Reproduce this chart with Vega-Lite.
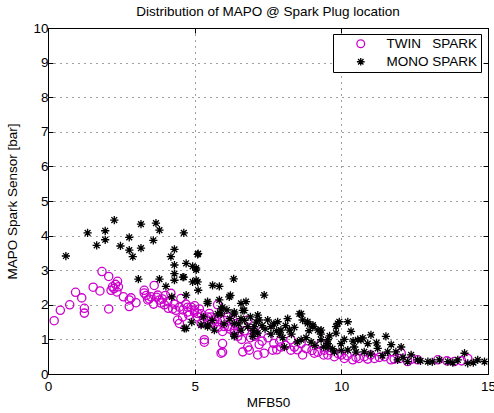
{
  "$schema": "https://vega.github.io/schema/vega-lite/v6.json",
  "width": 440,
  "height": 346,
  "autosize": "none",
  "padding": {"left": 48, "top": 28, "right": 6, "bottom": 39},
  "background": "white",
  "config": {
    "font": "Liberation Sans",
    "view": {"stroke": "black", "strokeWidth": 1},
    "axis": {"labelFont": "Liberation Sans", "titleFont": "Liberation Sans", "labelFontSize": 13.5, "titleFontSize": 13.5, "titleFontWeight": "normal", "labelColor": "black", "titleColor": "black", "domain": false, "tickColor": "black", "tickSize": -5, "gridColor": "black", "gridDash": [1, 5], "gridOpacity": 0.75, "gridWidth": 1}
  },
  "title": {"text": "Distribution of MAPO @ Spark Plug location", "fontSize": 13.5, "fontWeight": "normal", "font": "Liberation Sans", "offset": 3, "color": "black"},
  "datasets": {
    "pts": [
      {"s": "TWIN\u00a0\u00a0\u00a0SPARK", "x": 0.21, "y": 1.54}, {"s": "TWIN\u00a0\u00a0\u00a0SPARK", "x": 0.42, "y": 1.84}, {"s": "TWIN\u00a0\u00a0\u00a0SPARK", "x": 0.74, "y": 2.0}, {"s": "TWIN\u00a0\u00a0\u00a0SPARK", "x": 0.94, "y": 2.36}, {"s": "TWIN\u00a0\u00a0\u00a0SPARK", "x": 1.15, "y": 2.2}, {"s": "TWIN\u00a0\u00a0\u00a0SPARK", "x": 1.24, "y": 1.9}, {"s": "TWIN\u00a0\u00a0\u00a0SPARK", "x": 1.24, "y": 1.76}, {"s": "TWIN\u00a0\u00a0\u00a0SPARK", "x": 1.54, "y": 2.51}, {"s": "TWIN\u00a0\u00a0\u00a0SPARK", "x": 1.77, "y": 2.4}, {"s": "TWIN\u00a0\u00a0\u00a0SPARK", "x": 1.84, "y": 2.96}, {"s": "TWIN\u00a0\u00a0\u00a0SPARK", "x": 2.07, "y": 2.82}, {"s": "TWIN\u00a0\u00a0\u00a0SPARK", "x": 2.07, "y": 1.88}, {"s": "TWIN\u00a0\u00a0\u00a0SPARK", "x": 2.37, "y": 2.68}, {"s": "TWIN\u00a0\u00a0\u00a0SPARK", "x": 2.15, "y": 2.42}, {"s": "TWIN\u00a0\u00a0\u00a0SPARK", "x": 2.25, "y": 2.47}, {"s": "TWIN\u00a0\u00a0\u00a0SPARK", "x": 2.35, "y": 2.37}, {"s": "TWIN\u00a0\u00a0\u00a0SPARK", "x": 2.2, "y": 2.52}, {"s": "TWIN\u00a0\u00a0\u00a0SPARK", "x": 2.4, "y": 2.52}, {"s": "TWIN\u00a0\u00a0\u00a0SPARK", "x": 2.3, "y": 2.59}, {"s": "TWIN\u00a0\u00a0\u00a0SPARK", "x": 2.57, "y": 2.23}, {"s": "TWIN\u00a0\u00a0\u00a0SPARK", "x": 2.77, "y": 2.14}, {"s": "TWIN\u00a0\u00a0\u00a0SPARK", "x": 2.83, "y": 2.2}, {"s": "TWIN\u00a0\u00a0\u00a0SPARK", "x": 2.77, "y": 1.95}, {"s": "TWIN\u00a0\u00a0\u00a0SPARK", "x": 3.0, "y": 2.06}, {"s": "TWIN\u00a0\u00a0\u00a0SPARK", "x": 3.28, "y": 2.34}, {"s": "TWIN\u00a0\u00a0\u00a0SPARK", "x": 3.28, "y": 2.42}, {"s": "TWIN\u00a0\u00a0\u00a0SPARK", "x": 3.62, "y": 2.56}, {"s": "TWIN\u00a0\u00a0\u00a0SPARK", "x": 3.4, "y": 2.14}, {"s": "TWIN\u00a0\u00a0\u00a0SPARK", "x": 3.51, "y": 2.23}, {"s": "TWIN\u00a0\u00a0\u00a0SPARK", "x": 3.74, "y": 2.28}, {"s": "TWIN\u00a0\u00a0\u00a0SPARK", "x": 3.8, "y": 2.14}, {"s": "TWIN\u00a0\u00a0\u00a0SPARK", "x": 3.85, "y": 2.05}, {"s": "TWIN\u00a0\u00a0\u00a0SPARK", "x": 3.97, "y": 2.0}, {"s": "TWIN\u00a0\u00a0\u00a0SPARK", "x": 4.08, "y": 2.09}, {"s": "TWIN\u00a0\u00a0\u00a0SPARK", "x": 4.19, "y": 2.33}, {"s": "TWIN\u00a0\u00a0\u00a0SPARK", "x": 4.25, "y": 1.88}, {"s": "TWIN\u00a0\u00a0\u00a0SPARK", "x": 4.36, "y": 1.84}, {"s": "TWIN\u00a0\u00a0\u00a0SPARK", "x": 4.48, "y": 1.93}, {"s": "TWIN\u00a0\u00a0\u00a0SPARK", "x": 4.53, "y": 2.18}, {"s": "TWIN\u00a0\u00a0\u00a0SPARK", "x": 4.42, "y": 1.56}, {"s": "TWIN\u00a0\u00a0\u00a0SPARK", "x": 4.48, "y": 1.46}, {"s": "TWIN\u00a0\u00a0\u00a0SPARK", "x": 4.59, "y": 1.65}, {"s": "TWIN\u00a0\u00a0\u00a0SPARK", "x": 4.76, "y": 1.79}, {"s": "TWIN\u00a0\u00a0\u00a0SPARK", "x": 4.88, "y": 1.93}, {"s": "TWIN\u00a0\u00a0\u00a0SPARK", "x": 4.99, "y": 1.79}, {"s": "TWIN\u00a0\u00a0\u00a0SPARK", "x": 5.1, "y": 1.65}, {"s": "TWIN\u00a0\u00a0\u00a0SPARK", "x": 5.16, "y": 1.88}, {"s": "TWIN\u00a0\u00a0\u00a0SPARK", "x": 5.22, "y": 1.46}, {"s": "TWIN\u00a0\u00a0\u00a0SPARK", "x": 5.33, "y": 0.92}, {"s": "TWIN\u00a0\u00a0\u00a0SPARK", "x": 5.44, "y": 1.56}, {"s": "TWIN\u00a0\u00a0\u00a0SPARK", "x": 5.56, "y": 1.65}, {"s": "TWIN\u00a0\u00a0\u00a0SPARK", "x": 5.67, "y": 1.46}, {"s": "TWIN\u00a0\u00a0\u00a0SPARK", "x": 5.78, "y": 1.51}, {"s": "TWIN\u00a0\u00a0\u00a0SPARK", "x": 5.95, "y": 1.23}, {"s": "TWIN\u00a0\u00a0\u00a0SPARK", "x": 5.95, "y": 0.88}, {"s": "TWIN\u00a0\u00a0\u00a0SPARK", "x": 5.95, "y": 0.63}, {"s": "TWIN\u00a0\u00a0\u00a0SPARK", "x": 6.13, "y": 1.37}, {"s": "TWIN\u00a0\u00a0\u00a0SPARK", "x": 6.3, "y": 1.56}, {"s": "TWIN\u00a0\u00a0\u00a0SPARK", "x": 6.35, "y": 1.18}, {"s": "TWIN\u00a0\u00a0\u00a0SPARK", "x": 6.47, "y": 1.09}, {"s": "TWIN\u00a0\u00a0\u00a0SPARK", "x": 6.64, "y": 0.64}, {"s": "TWIN\u00a0\u00a0\u00a0SPARK", "x": 6.81, "y": 0.78}, {"s": "TWIN\u00a0\u00a0\u00a0SPARK", "x": 6.86, "y": 0.69}, {"s": "TWIN\u00a0\u00a0\u00a0SPARK", "x": 7.15, "y": 0.55}, {"s": "TWIN\u00a0\u00a0\u00a0SPARK", "x": 7.03, "y": 1.09}, {"s": "TWIN\u00a0\u00a0\u00a0SPARK", "x": 4.76, "y": 1.93}, {"s": "TWIN\u00a0\u00a0\u00a0SPARK", "x": 4.99, "y": 1.84}, {"s": "TWIN\u00a0\u00a0\u00a0SPARK", "x": 5.22, "y": 1.74}, {"s": "TWIN\u00a0\u00a0\u00a0SPARK", "x": 5.44, "y": 1.65}, {"s": "TWIN\u00a0\u00a0\u00a0SPARK", "x": 5.67, "y": 1.56}, {"s": "TWIN\u00a0\u00a0\u00a0SPARK", "x": 5.78, "y": 2.0}, {"s": "TWIN\u00a0\u00a0\u00a0SPARK", "x": 6.01, "y": 1.37}, {"s": "TWIN\u00a0\u00a0\u00a0SPARK", "x": 5.33, "y": 0.99}, {"s": "TWIN\u00a0\u00a0\u00a0SPARK", "x": 5.9, "y": 0.6}, {"s": "TWIN\u00a0\u00a0\u00a0SPARK", "x": 7.37, "y": 0.6}, {"s": "TWIN\u00a0\u00a0\u00a0SPARK", "x": 7.66, "y": 0.69}, {"s": "TWIN\u00a0\u00a0\u00a0SPARK", "x": 7.94, "y": 0.78}, {"s": "TWIN\u00a0\u00a0\u00a0SPARK", "x": 8.28, "y": 0.69}, {"s": "TWIN\u00a0\u00a0\u00a0SPARK", "x": 8.68, "y": 0.55}, {"s": "TWIN\u00a0\u00a0\u00a0SPARK", "x": 9.08, "y": 0.6}, {"s": "TWIN\u00a0\u00a0\u00a0SPARK", "x": 9.54, "y": 0.55}, {"s": "TWIN\u00a0\u00a0\u00a0SPARK", "x": 6.81, "y": 1.56}, {"s": "TWIN\u00a0\u00a0\u00a0SPARK", "x": 7.03, "y": 1.27}, {"s": "TWIN\u00a0\u00a0\u00a0SPARK", "x": 6.35, "y": 1.27}, {"s": "TWIN\u00a0\u00a0\u00a0SPARK", "x": 6.13, "y": 1.65}, {"s": "TWIN\u00a0\u00a0\u00a0SPARK", "x": 8.28, "y": 0.99}, {"s": "TWIN\u00a0\u00a0\u00a0SPARK", "x": 8.63, "y": 0.88}, {"s": "TWIN\u00a0\u00a0\u00a0SPARK", "x": 9.31, "y": 0.88}, {"s": "TWIN\u00a0\u00a0\u00a0SPARK", "x": 9.42, "y": 0.69}, {"s": "TWIN\u00a0\u00a0\u00a0SPARK", "x": 9.76, "y": 0.5}, {"s": "TWIN\u00a0\u00a0\u00a0SPARK", "x": 10.1, "y": 0.45}, {"s": "TWIN\u00a0\u00a0\u00a0SPARK", "x": 10.39, "y": 0.41}, {"s": "TWIN\u00a0\u00a0\u00a0SPARK", "x": 10.78, "y": 0.5}, {"s": "TWIN\u00a0\u00a0\u00a0SPARK", "x": 11.13, "y": 0.45}, {"s": "TWIN\u00a0\u00a0\u00a0SPARK", "x": 11.47, "y": 0.5}, {"s": "TWIN\u00a0\u00a0\u00a0SPARK", "x": 11.69, "y": 0.41}, {"s": "TWIN\u00a0\u00a0\u00a0SPARK", "x": 12.04, "y": 0.6}, {"s": "TWIN\u00a0\u00a0\u00a0SPARK", "x": 12.26, "y": 0.36}, {"s": "TWIN\u00a0\u00a0\u00a0SPARK", "x": 12.6, "y": 0.41}, {"s": "TWIN\u00a0\u00a0\u00a0SPARK", "x": 13.29, "y": 0.41}, {"s": "TWIN\u00a0\u00a0\u00a0SPARK", "x": 13.85, "y": 0.36}, {"s": "TWIN\u00a0\u00a0\u00a0SPARK", "x": 14.31, "y": 0.45}, {"s": "TWIN\u00a0\u00a0\u00a0SPARK", "x": 3.35, "y": 2.27}, {"s": "TWIN\u00a0\u00a0\u00a0SPARK", "x": 3.45, "y": 2.17}, {"s": "TWIN\u00a0\u00a0\u00a0SPARK", "x": 3.6, "y": 2.02}, {"s": "TWIN\u00a0\u00a0\u00a0SPARK", "x": 3.7, "y": 2.22}, {"s": "TWIN\u00a0\u00a0\u00a0SPARK", "x": 3.9, "y": 2.17}, {"s": "TWIN\u00a0\u00a0\u00a0SPARK", "x": 4.0, "y": 2.27}, {"s": "TWIN\u00a0\u00a0\u00a0SPARK", "x": 4.1, "y": 1.9}, {"s": "TWIN\u00a0\u00a0\u00a0SPARK", "x": 4.3, "y": 2.02}, {"s": "TWIN\u00a0\u00a0\u00a0SPARK", "x": 4.6, "y": 1.85}, {"s": "TWIN\u00a0\u00a0\u00a0SPARK", "x": 4.7, "y": 2.02}, {"s": "TWIN\u00a0\u00a0\u00a0SPARK", "x": 4.8, "y": 1.7}, {"s": "TWIN\u00a0\u00a0\u00a0SPARK", "x": 5.0, "y": 1.97}, {"s": "TWIN\u00a0\u00a0\u00a0SPARK", "x": 5.1, "y": 1.75}, {"s": "TWIN\u00a0\u00a0\u00a0SPARK", "x": 5.3, "y": 1.6}, {"s": "TWIN\u00a0\u00a0\u00a0SPARK", "x": 5.5, "y": 1.75}, {"s": "TWIN\u00a0\u00a0\u00a0SPARK", "x": 5.6, "y": 1.5}, {"s": "TWIN\u00a0\u00a0\u00a0SPARK", "x": 5.8, "y": 1.35}, {"s": "TWIN\u00a0\u00a0\u00a0SPARK", "x": 6.0, "y": 1.55}, {"s": "TWIN\u00a0\u00a0\u00a0SPARK", "x": 6.2, "y": 1.3}, {"s": "TWIN\u00a0\u00a0\u00a0SPARK", "x": 6.4, "y": 1.45}, {"s": "TWIN\u00a0\u00a0\u00a0SPARK", "x": 6.5, "y": 1.2}, {"s": "TWIN\u00a0\u00a0\u00a0SPARK", "x": 6.7, "y": 1.25}, {"s": "TWIN\u00a0\u00a0\u00a0SPARK", "x": 6.9, "y": 1.05}, {"s": "TWIN\u00a0\u00a0\u00a0SPARK", "x": 7.1, "y": 1.15}, {"s": "TWIN\u00a0\u00a0\u00a0SPARK", "x": 7.3, "y": 0.95}, {"s": "TWIN\u00a0\u00a0\u00a0SPARK", "x": 7.5, "y": 1.05}, {"s": "TWIN\u00a0\u00a0\u00a0SPARK", "x": 7.7, "y": 0.88}, {"s": "TWIN\u00a0\u00a0\u00a0SPARK", "x": 7.9, "y": 0.95}, {"s": "TWIN\u00a0\u00a0\u00a0SPARK", "x": 8.1, "y": 0.83}, {"s": "TWIN\u00a0\u00a0\u00a0SPARK", "x": 8.4, "y": 0.78}, {"s": "TWIN\u00a0\u00a0\u00a0SPARK", "x": 8.8, "y": 0.73}, {"s": "TWIN\u00a0\u00a0\u00a0SPARK", "x": 9.0, "y": 0.68}, {"s": "TWIN\u00a0\u00a0\u00a0SPARK", "x": 9.2, "y": 0.63}, {"s": "TWIN\u00a0\u00a0\u00a0SPARK", "x": 9.6, "y": 0.68}, {"s": "TWIN\u00a0\u00a0\u00a0SPARK", "x": 9.9, "y": 0.58}, {"s": "TWIN\u00a0\u00a0\u00a0SPARK", "x": 10.2, "y": 0.53}, {"s": "TWIN\u00a0\u00a0\u00a0SPARK", "x": 10.5, "y": 0.48}, {"s": "TWIN\u00a0\u00a0\u00a0SPARK", "x": 10.9, "y": 0.43}, {"s": "TWIN\u00a0\u00a0\u00a0SPARK", "x": 11.3, "y": 0.48}, {"s": "TWIN\u00a0\u00a0\u00a0SPARK", "x": 11.8, "y": 0.43}, {"s": "TWIN\u00a0\u00a0\u00a0SPARK", "x": 12.4, "y": 0.43}, {"s": "TWIN\u00a0\u00a0\u00a0SPARK", "x": 13.6, "y": 0.38}, {"s": "TWIN\u00a0\u00a0\u00a0SPARK", "x": 14.1, "y": 0.38}, {"s": "TWIN\u00a0\u00a0\u00a0SPARK", "x": 6.6, "y": 1.0}, {"s": "TWIN\u00a0\u00a0\u00a0SPARK", "x": 7.2, "y": 0.85}, {"s": "TWIN\u00a0\u00a0\u00a0SPARK", "x": 7.8, "y": 0.7}, {"s": "TWIN\u00a0\u00a0\u00a0SPARK", "x": 8.5, "y": 0.7}, {"s": "TWIN\u00a0\u00a0\u00a0SPARK", "x": 9.4, "y": 0.55}, {"s": "TWIN\u00a0\u00a0\u00a0SPARK", "x": 10.0, "y": 0.55}, {"s": "TWIN\u00a0\u00a0\u00a0SPARK", "x": 10.6, "y": 0.45}, {"s": "TWIN\u00a0\u00a0\u00a0SPARK", "x": 11.0, "y": 0.55}, {"s": "TWIN\u00a0\u00a0\u00a0SPARK", "x": 12.0, "y": 0.45},
      {"s": "MONO SPARK", "x": 0.61, "y": 3.41}, {"s": "MONO SPARK", "x": 1.35, "y": 4.08}, {"s": "MONO SPARK", "x": 1.66, "y": 3.72}, {"s": "MONO SPARK", "x": 1.95, "y": 4.14}, {"s": "MONO SPARK", "x": 1.95, "y": 3.88}, {"s": "MONO SPARK", "x": 2.26, "y": 4.45}, {"s": "MONO SPARK", "x": 2.47, "y": 3.7}, {"s": "MONO SPARK", "x": 2.77, "y": 3.95}, {"s": "MONO SPARK", "x": 2.77, "y": 3.58}, {"s": "MONO SPARK", "x": 2.89, "y": 3.39}, {"s": "MONO SPARK", "x": 3.17, "y": 4.33}, {"s": "MONO SPARK", "x": 3.17, "y": 3.64}, {"s": "MONO SPARK", "x": 3.59, "y": 3.86}, {"s": "MONO SPARK", "x": 3.68, "y": 4.36}, {"s": "MONO SPARK", "x": 3.8, "y": 4.16}, {"s": "MONO SPARK", "x": 3.08, "y": 2.74}, {"s": "MONO SPARK", "x": 3.8, "y": 2.74}, {"s": "MONO SPARK", "x": 4.02, "y": 2.53}, {"s": "MONO SPARK", "x": 4.19, "y": 3.39}, {"s": "MONO SPARK", "x": 4.31, "y": 3.6}, {"s": "MONO SPARK", "x": 4.31, "y": 3.15}, {"s": "MONO SPARK", "x": 4.31, "y": 2.9}, {"s": "MONO SPARK", "x": 4.31, "y": 2.71}, {"s": "MONO SPARK", "x": 4.63, "y": 4.08}, {"s": "MONO SPARK", "x": 4.63, "y": 2.8}, {"s": "MONO SPARK", "x": 4.71, "y": 3.2}, {"s": "MONO SPARK", "x": 4.93, "y": 3.11}, {"s": "MONO SPARK", "x": 5.05, "y": 3.06}, {"s": "MONO SPARK", "x": 5.12, "y": 3.48}, {"s": "MONO SPARK", "x": 4.93, "y": 2.66}, {"s": "MONO SPARK", "x": 5.05, "y": 2.71}, {"s": "MONO SPARK", "x": 5.12, "y": 2.42}, {"s": "MONO SPARK", "x": 4.71, "y": 2.28}, {"s": "MONO SPARK", "x": 4.22, "y": 2.23}, {"s": "MONO SPARK", "x": 4.65, "y": 1.32}, {"s": "MONO SPARK", "x": 5.22, "y": 1.41}, {"s": "MONO SPARK", "x": 5.44, "y": 1.41}, {"s": "MONO SPARK", "x": 5.44, "y": 2.04}, {"s": "MONO SPARK", "x": 5.61, "y": 2.56}, {"s": "MONO SPARK", "x": 5.84, "y": 2.53}, {"s": "MONO SPARK", "x": 5.84, "y": 2.14}, {"s": "MONO SPARK", "x": 5.95, "y": 1.93}, {"s": "MONO SPARK", "x": 5.9, "y": 1.74}, {"s": "MONO SPARK", "x": 6.18, "y": 2.23}, {"s": "MONO SPARK", "x": 6.22, "y": 2.27}, {"s": "MONO SPARK", "x": 6.33, "y": 2.75}, {"s": "MONO SPARK", "x": 6.35, "y": 1.74}, {"s": "MONO SPARK", "x": 6.35, "y": 1.46}, {"s": "MONO SPARK", "x": 6.35, "y": 1.13}, {"s": "MONO SPARK", "x": 6.58, "y": 2.04}, {"s": "MONO SPARK", "x": 6.75, "y": 2.09}, {"s": "MONO SPARK", "x": 6.69, "y": 1.84}, {"s": "MONO SPARK", "x": 6.58, "y": 1.27}, {"s": "MONO SPARK", "x": 6.81, "y": 1.37}, {"s": "MONO SPARK", "x": 7.03, "y": 1.37}, {"s": "MONO SPARK", "x": 7.15, "y": 1.7}, {"s": "MONO SPARK", "x": 7.15, "y": 1.18}, {"s": "MONO SPARK", "x": 5.1, "y": 3.46}, {"s": "MONO SPARK", "x": 5.05, "y": 3.01}, {"s": "MONO SPARK", "x": 4.6, "y": 2.8}, {"s": "MONO SPARK", "x": 5.1, "y": 2.66}, {"s": "MONO SPARK", "x": 5.44, "y": 2.09}, {"s": "MONO SPARK", "x": 5.78, "y": 1.74}, {"s": "MONO SPARK", "x": 5.9, "y": 1.88}, {"s": "MONO SPARK", "x": 6.64, "y": 1.84}, {"s": "MONO SPARK", "x": 7.37, "y": 2.28}, {"s": "MONO SPARK", "x": 6.35, "y": 1.79}, {"s": "MONO SPARK", "x": 6.58, "y": 1.6}, {"s": "MONO SPARK", "x": 7.2, "y": 1.56}, {"s": "MONO SPARK", "x": 7.49, "y": 1.56}, {"s": "MONO SPARK", "x": 7.6, "y": 1.37}, {"s": "MONO SPARK", "x": 7.83, "y": 1.51}, {"s": "MONO SPARK", "x": 7.94, "y": 1.27}, {"s": "MONO SPARK", "x": 8.17, "y": 1.6}, {"s": "MONO SPARK", "x": 8.23, "y": 1.27}, {"s": "MONO SPARK", "x": 8.57, "y": 1.74}, {"s": "MONO SPARK", "x": 8.68, "y": 1.56}, {"s": "MONO SPARK", "x": 8.85, "y": 1.46}, {"s": "MONO SPARK", "x": 9.03, "y": 1.37}, {"s": "MONO SPARK", "x": 9.2, "y": 1.27}, {"s": "MONO SPARK", "x": 9.31, "y": 0.99}, {"s": "MONO SPARK", "x": 9.54, "y": 0.99}, {"s": "MONO SPARK", "x": 8.06, "y": 0.78}, {"s": "MONO SPARK", "x": 8.63, "y": 0.99}, {"s": "MONO SPARK", "x": 8.97, "y": 0.92}, {"s": "MONO SPARK", "x": 6.98, "y": 1.09}, {"s": "MONO SPARK", "x": 6.35, "y": 1.09}, {"s": "MONO SPARK", "x": 5.67, "y": 1.27}, {"s": "MONO SPARK", "x": 5.44, "y": 1.37}, {"s": "MONO SPARK", "x": 4.71, "y": 1.32}, {"s": "MONO SPARK", "x": 9.54, "y": 0.88}, {"s": "MONO SPARK", "x": 8.63, "y": 1.74}, {"s": "MONO SPARK", "x": 8.85, "y": 1.51}, {"s": "MONO SPARK", "x": 9.03, "y": 1.41}, {"s": "MONO SPARK", "x": 9.93, "y": 1.51}, {"s": "MONO SPARK", "x": 10.22, "y": 1.51}, {"s": "MONO SPARK", "x": 10.33, "y": 1.23}, {"s": "MONO SPARK", "x": 9.82, "y": 1.37}, {"s": "MONO SPARK", "x": 10.56, "y": 0.99}, {"s": "MONO SPARK", "x": 10.73, "y": 1.04}, {"s": "MONO SPARK", "x": 11.01, "y": 1.13}, {"s": "MONO SPARK", "x": 11.52, "y": 1.09}, {"s": "MONO SPARK", "x": 12.04, "y": 0.78}, {"s": "MONO SPARK", "x": 9.88, "y": 1.46}, {"s": "MONO SPARK", "x": 9.82, "y": 1.18}, {"s": "MONO SPARK", "x": 9.31, "y": 1.27}, {"s": "MONO SPARK", "x": 9.99, "y": 0.88}, {"s": "MONO SPARK", "x": 10.44, "y": 0.78}, {"s": "MONO SPARK", "x": 10.67, "y": 0.99}, {"s": "MONO SPARK", "x": 10.9, "y": 0.88}, {"s": "MONO SPARK", "x": 11.24, "y": 0.74}, {"s": "MONO SPARK", "x": 11.58, "y": 0.64}, {"s": "MONO SPARK", "x": 11.86, "y": 0.64}, {"s": "MONO SPARK", "x": 12.38, "y": 0.55}, {"s": "MONO SPARK", "x": 11.92, "y": 0.41}, {"s": "MONO SPARK", "x": 12.26, "y": 0.36}, {"s": "MONO SPARK", "x": 12.6, "y": 0.41}, {"s": "MONO SPARK", "x": 12.95, "y": 0.36}, {"s": "MONO SPARK", "x": 13.34, "y": 0.41}, {"s": "MONO SPARK", "x": 13.63, "y": 0.36}, {"s": "MONO SPARK", "x": 13.97, "y": 0.41}, {"s": "MONO SPARK", "x": 14.2, "y": 0.6}, {"s": "MONO SPARK", "x": 14.31, "y": 0.31}, {"s": "MONO SPARK", "x": 14.65, "y": 0.41}, {"s": "MONO SPARK", "x": 14.88, "y": 0.36}, {"s": "MONO SPARK", "x": 9.54, "y": 0.78}, {"s": "MONO SPARK", "x": 9.76, "y": 0.64}, {"s": "MONO SPARK", "x": 10.22, "y": 0.69}, {"s": "MONO SPARK", "x": 10.78, "y": 0.64}, {"s": "MONO SPARK", "x": 7.0, "y": 1.25}, {"s": "MONO SPARK", "x": 7.3, "y": 1.4}, {"s": "MONO SPARK", "x": 7.6, "y": 1.15}, {"s": "MONO SPARK", "x": 7.8, "y": 1.25}, {"s": "MONO SPARK", "x": 8.0, "y": 1.05}, {"s": "MONO SPARK", "x": 8.3, "y": 1.15}, {"s": "MONO SPARK", "x": 8.5, "y": 0.93}, {"s": "MONO SPARK", "x": 8.8, "y": 1.05}, {"s": "MONO SPARK", "x": 9.1, "y": 0.83}, {"s": "MONO SPARK", "x": 9.4, "y": 0.78}, {"s": "MONO SPARK", "x": 9.7, "y": 0.73}, {"s": "MONO SPARK", "x": 10.0, "y": 0.68}, {"s": "MONO SPARK", "x": 10.5, "y": 0.63}, {"s": "MONO SPARK", "x": 11.0, "y": 0.58}, {"s": "MONO SPARK", "x": 11.4, "y": 0.53}, {"s": "MONO SPARK", "x": 12.1, "y": 0.48}, {"s": "MONO SPARK", "x": 12.7, "y": 0.38}, {"s": "MONO SPARK", "x": 13.1, "y": 0.35}, {"s": "MONO SPARK", "x": 13.8, "y": 0.33}, {"s": "MONO SPARK", "x": 14.5, "y": 0.33}, {"s": "MONO SPARK", "x": 6.5, "y": 1.45}, {"s": "MONO SPARK", "x": 6.9, "y": 1.65}, {"s": "MONO SPARK", "x": 5.6, "y": 1.55}, {"s": "MONO SPARK", "x": 6.1, "y": 1.85}, {"s": "MONO SPARK", "x": 6.0, "y": 1.45}, {"s": "MONO SPARK", "x": 5.3, "y": 1.65}, {"s": "MONO SPARK", "x": 4.9, "y": 1.5}, {"s": "MONO SPARK", "x": 6.2, "y": 1.6}, {"s": "MONO SPARK", "x": 6.7, "y": 1.55}, {"s": "MONO SPARK", "x": 7.4, "y": 1.3}, {"s": "MONO SPARK", "x": 7.7, "y": 1.45}, {"s": "MONO SPARK", "x": 8.1, "y": 1.4}, {"s": "MONO SPARK", "x": 8.4, "y": 1.35}, {"s": "MONO SPARK", "x": 8.9, "y": 1.25}, {"s": "MONO SPARK", "x": 9.3, "y": 1.15}, {"s": "MONO SPARK", "x": 9.6, "y": 1.1}, {"s": "MONO SPARK", "x": 10.1, "y": 1.0}, {"s": "MONO SPARK", "x": 10.4, "y": 0.95}, {"s": "MONO SPARK", "x": 11.2, "y": 0.9}, {"s": "MONO SPARK", "x": 11.7, "y": 0.85}, {"s": "MONO SPARK", "x": 7.1, "y": 1.5}, {"s": "MONO SPARK", "x": 7.9, "y": 1.15}
    ]
  },
  "data": {"name": "pts"},
  "layer": [
    {
      "mark": {"type": "point", "filled": false, "strokeWidth": 1.3, "size": 68, "opacity": 1},
      "encoding": {
        "x": {"field": "x", "type": "quantitative", "scale": {"domain": [0, 15], "nice": false, "zero": false}, "axis": {"orient": "bottom", "title": "MFB50", "values": [0, 5, 10, 15], "grid": true, "labelPadding": 10, "titlePadding": 3, "labelFlush": false}},
        "y": {"field": "y", "type": "quantitative", "scale": {"domain": [0, 10], "nice": false}, "axis": {"orient": "left", "title": "MAPO Spark Sensor [bar]", "values": [0, 1, 2, 3, 4, 5, 6, 7, 8, 9, 10], "grid": true, "labelPadding": 5, "titlePadding": 13, "labelFlush": false}},
        "color": {"field": "s", "type": "nominal", "scale": {"domain": ["TWIN\u00a0\u00a0\u00a0SPARK", "MONO SPARK"], "range": ["#cc00cc", "#000000"]}, "legend": {"title": null, "orient": "none", "legendX": 285, "legendY": 6, "strokeColor": "black", "fillColor": "white", "padding": 3, "labelFontSize": 13.5, "labelFont": "Liberation Sans", "labelColor": "black", "symbolStrokeWidth": 1.3, "rowPadding": 3, "symbolOffset": 18, "labelOffset": 19, "symbolSize": 60}},
        "shape": {"field": "s", "type": "nominal", "scale": {"domain": ["TWIN\u00a0\u00a0\u00a0SPARK", "MONO SPARK"], "range": ["circle", "M-1,0L1,0M0,-1L0,1M-0.7,-0.7L0.7,0.7M-0.7,0.7L0.7,-0.7"]}, "legend": null}
      }
    },
    {
      "mark": {"type": "point", "opacity": 0},
      "encoding": {
        "x": {"field": "x", "type": "quantitative", "axis": {"orient": "top", "title": null, "labels": false, "values": [0, 5, 10, 15], "grid": false}},
        "y": {"field": "y", "type": "quantitative", "axis": {"orient": "right", "title": null, "labels": false, "values": [0, 1, 2, 3, 4, 5, 6, 7, 8, 9, 10], "grid": false}}
      }
    }
  ],
  "resolve": {"axis": {"x": "independent", "y": "independent"}}
}
